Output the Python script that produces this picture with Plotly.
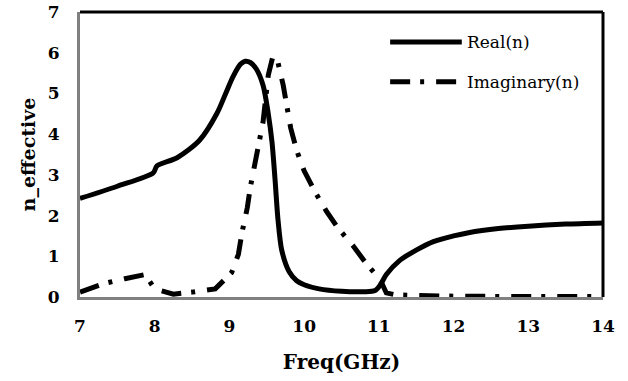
import plotly.graph_objects as go

real_x = [7.0, 7.5, 7.98, 8.03, 8.3, 8.6, 8.83, 8.95, 9.05, 9.15, 9.21, 9.28, 9.36, 9.45, 9.52, 9.57, 9.61, 9.65, 9.7, 9.8, 9.9, 10.0, 10.2, 10.5, 10.8, 10.95, 11.02, 11.1, 11.28, 11.5, 11.73, 12.0, 12.2, 12.6, 13.0, 13.5, 14.0]
real_y = [2.42, 2.72, 3.05, 3.22, 3.42, 3.85, 4.5, 5.0, 5.42, 5.72, 5.79, 5.76, 5.6, 5.2, 4.5, 3.8, 2.9, 1.9, 1.15, 0.62, 0.4, 0.3, 0.2, 0.14, 0.13, 0.16, 0.3, 0.55, 0.9, 1.15, 1.36, 1.5, 1.58, 1.68, 1.74, 1.79, 1.82]

imag_x = [7.0, 7.3, 7.6, 7.87, 8.0, 8.25, 8.5, 8.81, 9.03, 9.12, 9.17, 9.24, 9.28, 9.34, 9.45, 9.52, 9.58, 9.65, 9.72, 9.82, 9.9, 10.0, 10.14, 10.3, 10.45, 10.65, 10.84, 11.02, 11.1, 11.23, 11.5, 12.0, 13.0, 14.0]
imag_y = [0.12, 0.32, 0.45, 0.55, 0.2, 0.07, 0.12, 0.2, 0.6, 1.05, 1.6, 2.2, 2.7, 3.25, 4.3, 5.45, 5.9, 5.76, 5.2, 4.15, 3.6, 3.1, 2.6, 2.1, 1.7, 1.27, 0.8, 0.42, 0.1, 0.05, 0.03, 0.02, 0.01, 0.01]

x_ticks = [7, 8, 9, 10, 11, 12, 13, 14]
y_ticks = [0, 1, 2, 3, 4, 5, 6, 7]
series_names = ["Real(n)", "Imaginary(n)"]

serif = "DejaVu Serif"
imag_dash = "20px,10px,4px,12px"

fig = go.Figure()
fig.add_trace(go.Scatter(x=real_x, y=real_y, mode="lines", name=series_names[0],
                         line=dict(color="black", width=5, shape="spline", smoothing=0.8)))
fig.add_trace(go.Scatter(x=imag_x, y=imag_y, mode="lines", name=series_names[1],
                         line=dict(color="black", width=5, dash=imag_dash)))

fig.update_layout(
    width=628, height=381,
    margin=dict(l=80, r=25, t=12, b=84, autoexpand=False),
    plot_bgcolor="white", paper_bgcolor="white",
    font=dict(family=serif, color="black"),
    showlegend=False,
    xaxis=dict(range=[7, 14], tickvals=x_ticks, showgrid=False, zeroline=False,
               showline=True, linecolor="#808080", linewidth=3, ticks="",
               ticklabelstandoff=12, automargin=False,
               tickfont=dict(family=serif, size=17, color="black", weight="bold"),
               title=dict(text="<b>Freq(GHz)</b>", font=dict(family=serif, size=20), standoff=20)),
    yaxis=dict(range=[0, 7], tickvals=y_ticks, showgrid=False, zeroline=False,
               showline=True, linecolor="#808080", linewidth=3, ticks="",
               ticklabelstandoff=14, automargin=False,
               tickfont=dict(family=serif, size=17, color="black", weight="bold"),
               title=dict(text="<b>n_effective</b>", font=dict(family=serif, size=19), standoff=8)),
)
fig.add_shape(type="line", xref="paper", yref="paper", x0=0, x1=1, y0=1, y1=1,
              line=dict(color="black", width=3))
fig.add_shape(type="line", xref="paper", yref="paper", x0=1, x1=1, y0=0, y1=1,
              line=dict(color="black", width=3))

# custom legend (longer line samples like the original)
leg_y = [0.895, 0.755]
leg_dash = ["solid", imag_dash]
for name, yy, dd in zip(series_names, leg_y, leg_dash):
    fig.add_shape(type="line", xref="paper", yref="paper", x0=0.593, x1=0.730, y0=yy, y1=yy,
                  line=dict(color="black", width=5, dash=dd))
    fig.add_annotation(xref="paper", yref="paper", x=0.736, y=yy, text=name, showarrow=False,
                       xanchor="left", yanchor="middle", font=dict(family=serif, size=17, color="black"))

fig.write_html("out.html")
